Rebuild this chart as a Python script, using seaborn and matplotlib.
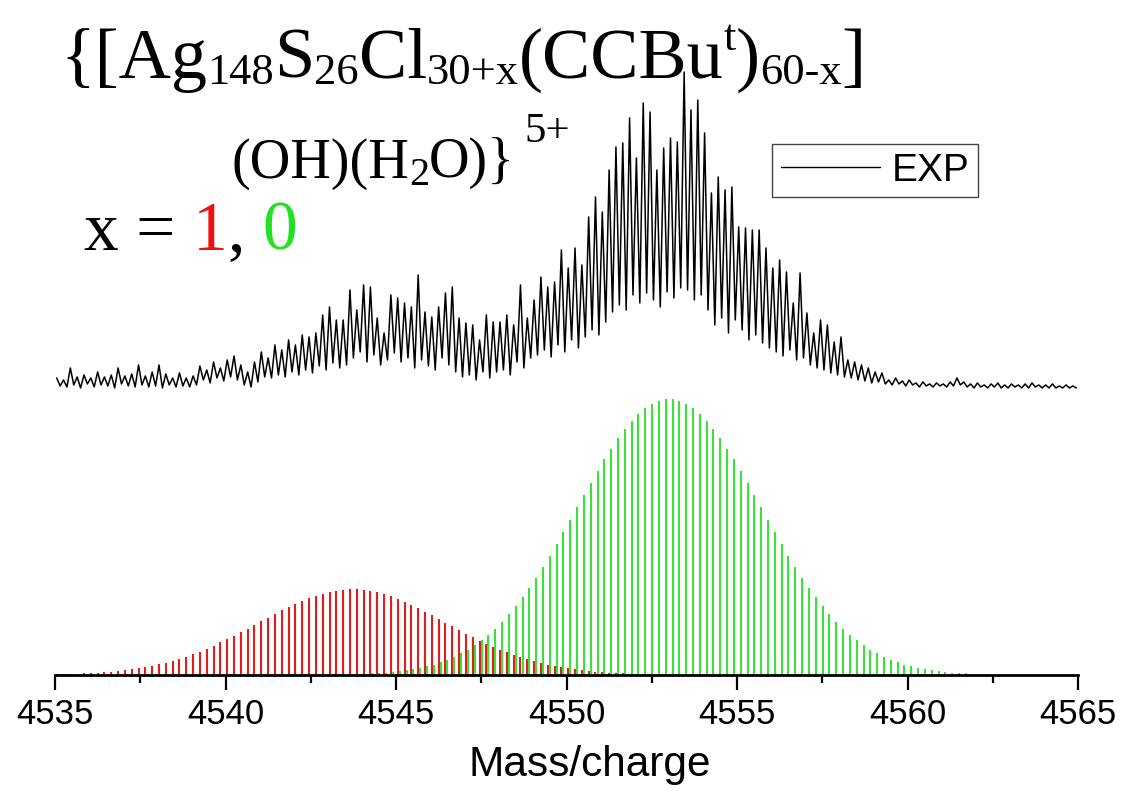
import numpy as np
import pandas as pd
import matplotlib
matplotlib.use("Agg")
import matplotlib.pyplot as plt
import seaborn as sns
from matplotlib.ticker import MultipleLocator, FormatStrFormatter
from matplotlib.lines import Line2D

# ---------------- data ----------------
# experimental spectrum: peak maxima and valley minima (a.u.), isotope spacing 0.2 (z = 5)
EXP_START = 4535.05
ISO_STEP = 0.2
EXP_PEAKS = [
    10, 8, 20, 11, 13, 10, 16, 11, 13, 20,
    12, 14, 23, 12, 16, 23, 14, 10, 15, 10,
    12, 22, 18, 26, 20, 28, 32, 23, 16, 26,
    36, 30, 43, 38, 48, 43, 53, 51, 55, 73,
    81, 68, 68, 98, 78, 103, 101, 70, 55, 93,
    90, 85, 81, 113, 76, 71, 81, 95, 101, 70,
    65, 63, 48, 73, 66, 66, 73, 63, 103, 70,
    88, 111, 101, 106, 138, 120, 140, 123, 171, 191,
    176, 218, 241, 245, 270, 230, 285, 276, 218, 240,
    250, 246, 316, 278, 288, 255, 195, 211, 198, 201,
    161, 160, 158, 158, 140, 120, 128, 116, 85, 115,
    75, 55, 68, 63, 46, 51, 28, 26, 23, 20,
    16, 15, 8, 10, 7, 8, 5, 6, 4, 5,
    4, 6, 10, 6, 4, 5, 3, 4, 5, 3,
    4, 3, 4, 5, 3, 3, 4, 2, 3, 2]
EXP_VALLEYS = [
    2, 1, 3, 0, 4, 1, 3, 2, 0, 4,
    2, 1, 3, 1, 2, 0, 3, 1, 2, 1,
    3, 8, 5, 10, 7, 11, 8, 3, 1, 6,
    11, 10, 13, 11, 16, 13, 18, 15, 22, 18,
    25, 20, 23, 30, 36, 26, 33, 23, 28, 35,
    26, 30, 20, 28, 22, 18, 30, 23, 16, 11,
    13, 8, 16, 10, 16, 18, 13, 26, 20, 30,
    33, 38, 31, 43, 36, 48, 40, 51, 58, 53,
    66, 76, 83, 78, 93, 85, 95, 88, 81, 96,
    90, 100, 98, 88, 93, 78, 63, 70, 55, 68,
    58, 48, 53, 45, 40, 36, 32, 38, 28, 30,
    23, 20, 18, 15, 13, 11, 10, 8, 7, 5,
    6, 4, 3, 4, 2, 3, 1, 2, 1, 2,
    1, 2, 3, 1, 0, 1, 0, 1, 0, 0,
    1, 0, 0, 1, 0, 0, 0, 0, 0, 0]

# simulated isotope patterns (relative intensity, %)
SIM1_START = 4535.05   # x = 1 (red)
SIM1_INT = [
    0.3, 0.3, 0.4, 0.5, 0.6, 0.7, 0.9, 1.0, 1.2, 1.5,
    1.8, 2.1, 2.5, 2.9, 3.4, 3.9, 4.5, 5.2, 5.9, 6.7,
    7.6, 8.5, 9.5, 10.6, 11.8, 13.0, 14.2, 15.5, 16.8, 18.1,
    19.5, 20.8, 22.1, 23.4, 24.6, 25.8, 26.9, 27.8, 28.7, 29.4,
    30.1, 30.5, 30.8, 31.0,
    31.0, 30.8, 30.4, 29.9, 29.3, 28.5, 27.6, 26.6, 25.5, 24.3,
    23.0, 21.7, 20.4, 19.0, 17.7, 16.3, 15.0, 13.7, 12.5, 11.3,
    10.2, 9.2, 8.2, 7.3, 6.5, 5.7, 5.0, 4.4, 3.8, 3.3,
    2.8, 2.4, 2.0, 1.7, 1.4, 1.2, 1.0, 0.8, 0.7, 0.6,
    0.5, 0.4, 0.3, 0.3]
SIM0_START = 4543.91   # x = 0 (green)
SIM0_INT = [
    0.3, 0.4, 0.6, 0.7, 0.9, 1.1, 1.4, 1.7, 2.1, 2.6,
    3.2, 3.8, 4.6, 5.5, 6.6, 7.8, 9.2, 10.8, 12.6, 14.6,
    16.8, 19.3, 22.0, 24.9, 28.1, 31.6, 35.2, 39.1, 43.2, 47.4,
    51.7, 56.2, 60.7, 65.1, 69.6, 73.9, 78.1, 82.0, 85.7, 89.1,
    92.0, 94.6, 96.7, 98.3, 99.4, 99.9,
    100.0, 99.4, 98.3, 96.7, 94.6, 92.0, 89.1, 85.7, 82.0, 78.1,
    73.9, 69.6, 65.1, 60.7, 56.2, 51.7, 47.4, 43.2, 39.1, 35.2,
    31.6, 28.1, 24.9, 22.0, 19.3, 16.8, 14.6, 12.6, 10.8, 9.2,
    7.8, 6.6, 5.5, 4.6, 3.8, 3.2, 2.6, 2.1, 1.7, 1.4,
    1.1, 0.9, 0.7, 0.6, 0.4, 0.3]

X_TICKS = [4535, 4540, 4545, 4550, 4555, 4560, 4565]
X_LABEL = "Mass/charge"
LEGEND_LABEL = "EXP"

# ---------------- style ----------------
W, H = 1123, 795
RED = "#e31b1b"
GREEN = "#3be03b"
TXT_RED = "#ee1111"
TXT_GREEN = "#22e022"
EXP_OFFSET = 104.0          # vertical offset of the experimental trace
EXP_SCALE = 1 / 2.76        # a.u. -> plot units

sns.set_theme(style="ticks")
plt.rcParams["font.family"] = ["Liberation Sans", "DejaVu Sans"]
plt.rcParams["text.color"] = "black"

n = len(EXP_PEAKS)
peak_mz = np.round(EXP_START + ISO_STEP * np.arange(n), 3)
valley_mz = np.round(peak_mz + ISO_STEP / 2, 3)
exp_mz = np.empty(2 * n)
exp_mz[0::2] = peak_mz
exp_mz[1::2] = valley_mz
exp_int = np.empty(2 * n)
exp_int[0::2] = EXP_PEAKS
exp_int[1::2] = EXP_VALLEYS
df_exp = pd.DataFrame({"mz": exp_mz, "y": EXP_OFFSET + exp_int * EXP_SCALE})

sim1_mz = SIM1_START + ISO_STEP * np.arange(len(SIM1_INT))
sim0_mz = SIM0_START + ISO_STEP * np.arange(len(SIM0_INT))

fig = plt.figure(figsize=(W / 100, H / 100), dpi=100)
ax = fig.add_axes([55 / W, 120 / H, (1078 - 55) / W, 675 / H])

ax.vlines(sim1_mz, 0, SIM1_INT, color=RED, lw=1.5)
ax.vlines(sim0_mz, 0, SIM0_INT, color=GREEN, lw=1.5)
sns.lineplot(data=df_exp, x="mz", y="y", ax=ax, color="black", lw=1.1,
             sort=False, estimator=None, legend=False)

ax.set_xlim(X_TICKS[0], X_TICKS[-1])
ax.set_ylim(0, 675 / 2.76)
ax.set_yticks([])
ax.set_ylabel("")
for s in ["left", "top", "right"]:
    ax.spines[s].set_visible(False)
ax.spines["bottom"].set_linewidth(2.0)
ax.spines["bottom"].set_color("black")
ax.set_xticks(X_TICKS)
ax.xaxis.set_minor_locator(MultipleLocator(2.5))
ax.xaxis.set_major_formatter(FormatStrFormatter("%d"))
ax.tick_params(axis="x", which="major", length=10.8, width=1.6, direction="out",
               labelsize=25, pad=6, colors="black")
ax.tick_params(axis="x", which="minor", length=5.8, width=1.6, direction="out",
               colors="black")
ax.set_xlabel(X_LABEL, fontsize=30.5, color="black")
ax.xaxis.set_label_coords((590 - 55) / 1023, -(745 - 675) / 675)
ax.patch.set_alpha(0)

handle = Line2D([], [], color="black", lw=1.0)
leg = ax.legend([handle], [LEGEND_LABEL], loc="upper left",
                bbox_to_anchor=(772 / W, 1 - 144 / H), bbox_transform=fig.transFigure,
                fontsize=28, frameon=True, fancybox=False, edgecolor="#444444",
                framealpha=1, borderpad=0.22, handlelength=2.55, handletextpad=0.3,
                borderaxespad=0)
leg.get_frame().set_linewidth(1.0)
for t in leg.get_texts():
    t.set_color("black")

# ---------------- formula annotation (real text, pieced together) ----------------
renderer = fig.canvas.get_renderer()
SERIF = ["Liberation Serif", "DejaVu Serif"]


def rich_line(x0, y_base, segments):
    x = x0
    for text, size, dy, dx, color in segments:
        x += dx
        t = fig.text(x / W, (H - y_base + dy) / H, text, fontsize=size, color=color,
                     family=SERIF, ha="left", va="baseline")
        x += t.get_window_extent(renderer).width


rich_line(60, 78, [
    ("{[Ag", 52, 0, 0, "black"), ("148", 32, -6, 0, "black"),
    ("S", 52, 0, 0, "black"), ("26", 32, -6, 0, "black"),
    ("Cl", 52, 0, 0, "black"), ("30+x", 32, -6, 0, "black"),
    ("(CCBu", 52, 0, 0, "black"), ("t", 32, 28, 0, "black"),
    (")", 52, 0, 0, "black"), ("60-x", 32, -6, 0, "black"),
    ("]", 52, 0, 0, "black"),
])
rich_line(231, 178, [
    ("(OH)(H", 40.5, 0, 0, "black"), ("2", 29, -7, 0, "black"),
    ("O)}", 40.5, 0, 0, "black"), ("5+", 31, 36, 9, "black"),
])
rich_line(84, 250, [
    ("x = ", 50, 0, 0, "black"), ("1", 50, 0, 0, TXT_RED),
    (", ", 50, 0, 0, "black"), ("0", 50, 0, 0, TXT_GREEN),
])

fig.savefig("out.png", dpi=100)
